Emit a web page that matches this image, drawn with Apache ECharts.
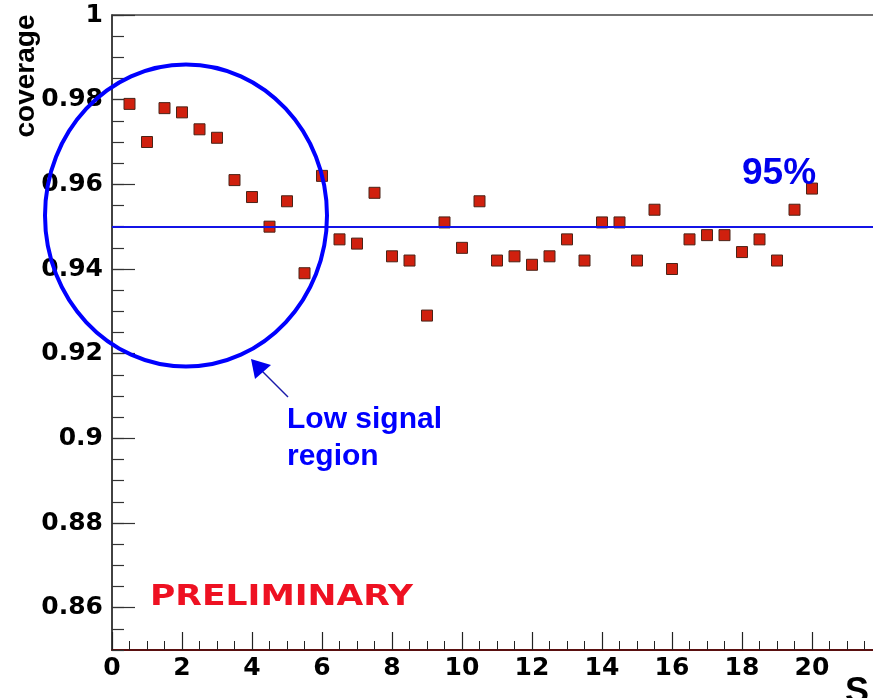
<!DOCTYPE html>
<html>
<head>
<meta charset="utf-8">
<script src="https://cdn.jsdelivr.net/npm/echarts@6/dist/echarts.min.js"></script>
<style>
html,body{margin:0;padding:0;background:#fff;overflow:hidden;}
#chart{width:873px;height:698px;}
</style>
</head>
<body>
<div id="chart"></div>
<script>
// ---- data ----
var signalS = [0.5,1,1.5,2,2.5,3,3.5,4,4.5,5,5.5,6,6.5,7,7.5,8,8.5,9,9.5,10,
               10.5,11,11.5,12,12.5,13,13.5,14,14.5,15,15.5,16,16.5,17,17.5,18,18.5,19,19.5,20];
var coverage = [0.979,0.970,0.978,0.977,0.973,0.971,0.961,0.957,0.950,0.956,
                0.939,0.962,0.947,0.946,0.958,0.943,0.942,0.929,0.951,0.945,
                0.956,0.942,0.943,0.941,0.943,0.947,0.942,0.951,0.951,0.942,
                0.954,0.940,0.947,0.948,0.948,0.944,0.947,0.942,0.954,0.959];
var yTickLabels = [0.86,0.88,0.9,0.92,0.94,0.96,0.98,1];
var xTickLabels = [0,2,4,6,8,10,12,14,16,18,20];
var nominal = 0.95;
var nominalLabel = '95%';
var yTitle = 'coverage';
var xTitle = 'S';
var annotation = ['Low signal', 'region'];
var stamp = 'PRELIMINARY';

// ---- build ----
var pts = signalS.map(function(s,i){ return [s, coverage[i]]; });
var yMin = 0.85, yMax = 1.0;
var minorY = [];
for (var v = yMin; v <= yMax + 1e-9; v += 0.005) minorY.push(Math.round(v*1000)/1000);

function fmt(v){ return String(Math.round(v*1000)/1000); }

var c = document.createElement('canvas').getContext('2d');
c.font = 'bold 28px "DejaVu Sans"';
var prelimScale = 263 / c.measureText(stamp).width;

var chart = echarts.init(document.getElementById('chart'), null, {renderer:'canvas'});
var labelFont = {fontFamily:'"DejaVu Sans"', fontWeight:'bold', fontSize:25, color:'#000'};
chart.setOption({
  animation:false,
  backgroundColor:'#fff',
  grid:{left:112, top:15, right:-9, bottom:48, outerBoundsMode:'none', containLabel:false,
        show:true, borderColor:'#444', borderWidth:1.5, backgroundColor:'transparent'},
  xAxis:{
    type:'value', min:0, max:22, interval:2,
    axisLine:{show:true, onZero:false, lineStyle:{color:'#5a1010', width:2}},
    axisTick:{show:true, inside:true, length:18, lineStyle:{color:'#222', width:1.2}},
    minorTick:{show:true, splitNumber:4, length:9, lineStyle:{color:'#222', width:1}},
    axisLabel:Object.assign({margin:6, formatter:function(v){ return xTickLabels.indexOf(v) >= 0 ? fmt(v) : ''; }}, labelFont),
    splitLine:{show:false}
  },
  yAxis:[{
    type:'value', min:yMin, max:yMax, position:'left', offset:0,
    axisLine:{show:true, lineStyle:{color:'#333', width:1.5}},
    axisTick:{show:true, inside:true, length:23, customValues:yTickLabels, lineStyle:{color:'#333', width:1.2}},
    axisLabel:Object.assign({margin:9, customValues:yTickLabels, formatter:fmt}, labelFont),
    splitLine:{show:false}
  },{
    type:'value', min:yMin, max:yMax, position:'left', offset:0,
    axisLine:{show:false},
    axisTick:{show:true, inside:true, length:12, customValues:minorY, lineStyle:{color:'#333', width:1.2}},
    axisLabel:{show:false},
    splitLine:{show:false}
  }],
  series:[{
    type:'scatter', data:pts, symbol:'rect', symbolSize:11,
    itemStyle:{color:'#d0200e', borderColor:'#4a2418', borderWidth:1, opacity:1},
    markLine:{
      silent:true, symbol:['none','none'], label:{show:false},
      lineStyle:{color:'#1414e6', width:2, type:'solid'},
      data:[{yAxis:nominal}]
    },
    z:3
  }],
  graphic:[
    {type:'ellipse', shape:{cx:186, cy:215.5, rx:141, ry:151}, style:{fill:null, stroke:'#0000ff', lineWidth:4}, z:100},
    {type:'line', shape:{x1:288, y1:397, x2:260, y2:369}, style:{stroke:'#1a1aaa', lineWidth:1.5}, z:100},
    {type:'polygon', shape:{points:[[251,359],[271,365],[255,379]]}, style:{fill:'#0000ee'}, z:100},
    {type:'text', x:287, y:420, style:{text:annotation[0], font:'bold 30px "Liberation Sans"', fill:'#0000ff', align:'left', verticalAlign:'middle'}, z:100},
    {type:'text', x:287, y:457, style:{text:annotation[1], font:'bold 30px "Liberation Sans"', fill:'#0000ff', align:'left', verticalAlign:'middle'}, z:100},
    {type:'text', x:742, y:174, style:{text:nominalLabel, font:'bold 37px "Liberation Sans"', fill:'#0000ee', align:'left', verticalAlign:'middle'}, z:100},
    {type:'text', x:150, y:598, scaleX:prelimScale, style:{text:stamp, font:'bold 28px "DejaVu Sans"', fill:'#ee1122', align:'left', verticalAlign:'middle'}, z:100},
    {type:'text', x:26, y:76, rotation:Math.PI/2, style:{text:yTitle, font:'bold 28px "Liberation Sans"', fill:'#000', align:'center', verticalAlign:'middle'}, z:100},
    {type:'text', x:845, y:693, style:{text:xTitle, font:'bold 36px "Liberation Sans"', fill:'#000', align:'left', verticalAlign:'middle'}, z:100}
  ]
});
</script>
</body>
</html>
